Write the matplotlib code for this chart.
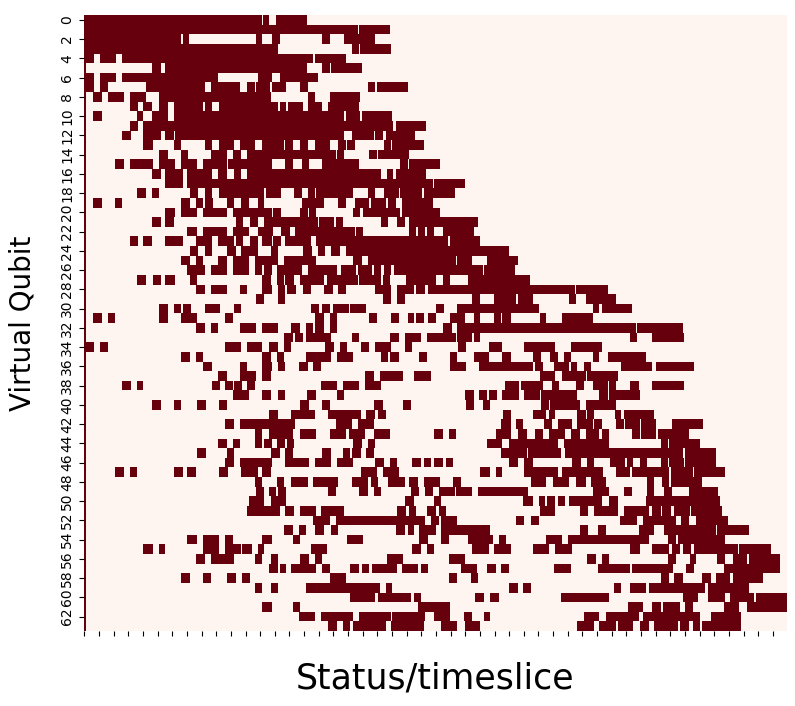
import numpy as np
import matplotlib
matplotlib.use("Agg")
import matplotlib.pyplot as plt
import seaborn as sns

# busy spans per virtual qubit, (start, end) in units of 2 timeslices
busy = [
    [(0,97),(98,101),(105,122)],
    [(0,149.5),(150,167)],
    [(0,53),(54,57.5),(94,97.5),(102.5,107),(130,134.5),(142,159)],
    [(0,97),(97.5,106),(146.5,150),(151,167.5)],
    [(0,5.5),(8.5,17.5),(20.5,125),(126,143)],
    [(0,1),(37,42),(44.5,122),(130,134.5),(135,152)],
    [(0,5.5),(8.5,17.5),(20.5,73),(95,102.5),(107,128)],
    [(0,5.5),(8.5,13),(34,66),(69.5,85),(89,93.5),(94,101.5),(102.5,110.5),(118,122.5),(155,159),(160,177)],
    [(0,1),(5,10),(13,22),(25,34),(41,97),(97.5,102),(122.5,126),(134.5,151)],
    [(0,1),(25,29.5),(32.5,37),(41,46),(49,65),(66,70),(73.5,106),(107,110.5),(111.5,119.5),(122.5,130),(133.5,150)],
    [(0,1),(5,10),(29,32.5),(37,46),(49,142),(143,151),(152,168.5)],
    [(0,1),(25,29.5),(32.5,169),(170.5,187)],
    [(0,1),(20.5,25.5),(32.5,42),(44.5,49),(49.5,142),(146.5,158.5),(159,163.5),(165,181)],
    [(0,1),(32.5,37.5),(49,53),(66,70),(73.5,82),(85,93.5),(97,109),(110,114),(118,122.5),(126,134.5),(138.5,143),(143.5,148),(164,167.5),(168.5,185.5)],
    [(0,1),(41,46),(53,57),(69.5,78),(81.5,85.5),(89,137.5),(138,142),(155.5,160),(160.5,177.5)],
    [(0,1),(17,22),(25,37.5),(41,49.5),(53,61.5),(65,78),(78.5,102.5),(110,114),(119,123),(130,150),(172.5,177),(177.5,194.5)],
    [(0,1),(37,42),(44.5,54),(56.5,70),(73,78),(82,85.5),(89,162),(165.5,169),(170.5,187)],
    [(0,1),(44.5,54),(56.5,190.5),(191,208)],
    [(0,1),(29,34),(37,41),(58,62.5),(66,70),(73.5,98.5),(99.5,107.5),(114.5,119),(122.5,126),(126.5,147),(155,159),(164,172),(172.5,184.5),(185.5,202.5)],
    [(0,1),(5,10),(17,20.5),(53,58),(61,65),(66,70.5),(78,82),(85.5,90),(95,98.5),(119,131),(138.5,143),(148,155.5),(156.5,165),(166,170.5),(173.5,190.5)],
    [(0,1),(44.5,49.5),(53,61.5),(65,78),(81.5,102.5),(103.5,107.5),(118,122.5),(123,126.5),(147,151),(152.5,172.5),(173.5,194.5)],
    [(0,1),(37,42),(44.5,49),(83,87),(90.5,95),(98.5,128),(128.5,136.5),(137.5,141.5),(162,166),(171,175.5),(177.5,197.5),(198,215)],
    [(0,1),(56.5,61.5),(65,78),(81.5,90),(95,103.5),(107.5,112.5),(115.5,148),(148.5,152.5),(177.5,181.5),(182.5,186),(187.5,191),(196,213)],
    [(0,1),(25,29.5),(32.5,37),(44.5,54),(61,70),(73,82),(83,87),(90.5,95),(97.5,102.5),(103.5,107.5),(110,124),(126.5,199),(200,216.5)],
    [(0,1),(58,62.5),(66,70),(78,83),(85.5,95),(102,106),(119.5,124.5),(128,131.5),(135,140),(143,232)],
    [(0,1),(53,58),(61,65),(73,78),(81.5,90),(93.5,106),(109,126.5),(147,152),(155,203),(204,212),(220,237)],
    [(0,1),(56.5,66),(69.5,78),(81.5,90),(93.5,97.5),(98.5,102.5),(105.5,119),(122.5,138),(140.5,148.5),(149.5,157.5),(158.5,162),(164,167.5),(169.5,218),(218.5,235.5)],
    [(0,1),(29,34),(37.5,42),(44.5,49.5),(58,61.5),(97,102),(105.5,109),(110,114.5),(118,131),(132.5,149.5),(150,162),(163.5,167),(176,192),(196,200),(210,243.5)],
    [(0,1),(61,66),(69.5,78),(85,89),(97.5,102.5),(106,110),(111,116),(119.5,124),(131,136),(138.5,143),(159,167.5),(171,180),(181.5,186),(188,268),(269,286)],
    [(0,1),(94,98.5),(106,110),(163.5,167.5),(171,175.5),(212,216.5),(224,236),(237,245),(265,269),(274,290.5)],
    [(0,1),(41,46),(49,53),(54,58.5),(66,74.5),(82,85.5),(124,128.5),(130,134.5),(136,144.5),(145.5,154),(192,196.5),(204,248.5),(278,281.5),(283,299.5)],
    [(0,1),(5,10),(13,17),(41,46),(53,61.5),(77,81.5),(126,131),(134.5,138),(155.5,160),(167.5,172),(177,180.5),(181.5,185.5),(188,192),(200,208),(213,216.5),(224,228),(228.5,233),(249,252.5),(261,278)],
    [(0,1),(61,66),(69.5,73),(85,94),(97,106),(113,118),(121,125),(126,131),(134.5,138),(196,201),(204,301.5),(302,327)],
    [(0,1),(109,114),(115.5,119.5),(121,135),(146.5,150),(167,172),(175.5,184),(187.5,203),(204,212),(213,216.5),(298,302),(310.5,327.5)],
    [(0,5.5),(8.5,13),(77,85.5),(89,97.5),(101,106),(109,113),(131.5,136.5),(140,143.5),(151.5,155.5),(159,167.5),(175.5,179),(204.5,208.5),(221,228.5),(240.5,245),(245.5,257.5),(266,283)],
    [(0,1),(53,58),(61,65),(97,102),(105.5,109),(121,135),(138,147),(162,166),(167,172),(183,187.5),(200,204),(213,221),(228.5,233),(245.5,249.5),(254.5,259),(262,266),(278,281.5),(286,307)],
    [(0,1),(65,70),(85,89),(97.5,102.5),(106,110),(117.5,122.5),(125,129.5),(200,208.5),(216,245),(246.5,250.5),(257,265),(266,269.5),(273,277),(293.5,310),(312.5,333)],
    [(0,1),(73,78),(85,94),(97.5,102),(153.5,158.5),(161.5,174),(180.5,189.5),(249,257.5),(261,274),(274.5,291.5)],
    [(0,1),(20.5,25.5),(29,32.5),(70,74.5),(77,81.5),(82,86.5),(89,93.5),(129.5,138),(141.5,150),(153.5,162),(230,237.5),(238.5,250.5),(255.5,259.5),(269,273),(278,286),(286.5,290.5),(298.5,303),(310.5,327.5)],
    [(0,1),(81.5,90),(97,102),(106,110),(122,126.5),(138,142),(208,213),(216,220),(221,225.5),(228.5,237.5),(240.5,249),(249.5,269.5),(281.5,286),(286.5,303.5)],
    [(0,1),(37,42),(49,53),(61.5,66.5),(73.5,78),(118,123),(130,134.5),(158.5,163.5),(174,178.5),(208.5,213),(218,221.5),(249.5,254),(254.5,271),(274,290.5)],
    [(0,1),(101,106),(113,126),(133.5,151.5),(154,159),(160.5,165),(229,233.5),(245,252.5),(254,257.5),(269.5,274),(274.5,278.5),(290,293.5),(295,311.5)],
    [(0,1),(77,82),(85,115.5),(137.5,146.5),(149.5,158.5),(228,233),(236,240),(251,255.5),(259,266.5),(269.5,278),(278.5,283),(290.5,295),(295.5,303.5),(304,312.5),(321,338)],
    [(0,1),(93.5,97.5),(101,114),(118,126.5),(134.5,143),(144.5,153.5),(158.5,167),(191,196),(199.5,203),(225,233.5),(237,242),(246.5,250.5),(254,262.5),(266,271),(274,281.5),(283,286.5),(299.5,303.5),(304,312.5),(313.5,330.5)],
    [(0,1),(73,78),(81.5,85),(93.5,97.5),(98.5,102.5),(105.5,110),(111,114.5),(147,152),(155,159),(220,228.5),(232,259),(262,286.5),(315,319),(319.5,336.5)],
    [(0,1),(61.5,66.5),(78,82),(102,107),(110,114),(130,135),(141.5,145.5),(146.5,151.5),(154,158.5),(228,242),(242.5,260.5),(262.5,327),(328.5,345)],
    [(0,1),(77,82),(85,102.5),(110,123),(126,135),(138,147),(159,164),(167,171),(179,184),(185.5,189.5),(191,196),(197.5,201.5),(232,237),(240.5,245),(266.5,271.5),(274.5,278.5),(287.5,295.5),(296.5,300),(303.5,307.5),(315,319),(319.5,327.5),(328.5,345)],
    [(0,1),(17,22),(25,29),(49,54),(56.5,61),(73.5,78.5),(85.5,95),(97.5,102),(151.5,160),(163.5,172),(216.5,221.5),(225,228.5),(240.5,259),(261,283.5),(290.5,298.5),(299.5,319.5),(320.5,332.5),(333,350)],
    [(0,1),(93.5,97.5),(105.5,109),(113,122.5),(125,138.5),(146.5,155),(156.5,160.5),(166,175.5),(177.5,182.5),(185.5,194.5),(201.5,206),(244,252.5),(256,265),(269,274),(277,285),(307.5,311.5),(315.5,319.5),(320.5,337.5)],
    [(0,1),(94,98.5),(101,105),(106,110.5),(133.5,137.5),(150,155),(158.5,162),(178.5,183),(186,190.5),(194,202.5),(203,212),(215,233),(233.5,242.5),(278,286.5),(295,299.5),(307.5,311.5),(317,321),(330.5,346.5)],
    [(0,1),(90,98.5),(102,110.5),(175.5,180),(191,195),(240,245),(248.5,252),(253,257.5),(259,262.5),(265,283),(286.5,291.5),(307,347.5)],
    [(0,1),(89,107),(110,114.5),(118,126.5),(129.5,142),(171,176),(177.5,181.5),(187.5,192),(194,197.5),(249,257.5),(271,275.5),(278.5,291.5),(295,308.5),(310.5,315),(315.5,320.5),(322.5,331),(331.5,348.5)],
    [(0,1),(125,134.5),(137.5,186),(189.5,194),(195,204),(236,240.5),(244,248.5),(293,302),(305.5,323.5),(326,330.5),(334.5,351.5)],
    [(0,1),(109,114),(117.5,121),(126,131),(135,138.5),(170.5,175.5),(177,180.5),(183,192),(195,221.5),(271,275.5),(281,285),(303,311.5),(317,345),(346,363)],
    [(0,1),(56.5,61.5),(65,73.5),(77,81.5),(97.5,102.5),(114,118),(143.5,152.5),(183,188),(195,199.5),(209.5,223.5),(226.5,230.5),(252.5,261),(264.5,308.5),(319,323.5),(324.5,350)],
    [(0,1),(32.5,37.5),(41,44.5),(65,73.5),(77,85.5),(86.5,91.5),(95,98.5),(124,132.5),(179,184),(187.5,191),(212,221),(224,233),(245,254),(257.5,266.5),(298.5,303.5),(310.5,319.5),(321,325.5),(327,331.5),(333,357.5),(358,375)],
    [(0,1),(61,66),(69.5,82),(93.5,97.5),(102,106),(118,123),(126,130),(165.5,174),(199.5,208),(274.5,279.5),(283,286.5),(319,323.5),(331,334.5),(346,350),(354.5,362),(363,380)],
    [(0,1),(101,106),(107,110.5),(113,126.5),(130,134.5),(145.5,150),(152,155.5),(157.5,171),(173.5,182.5),(184,188),(206,214.5),(220,225),(228,232),(257,266),(281,298.5),(299.5,322),(329,333),(349.5,380)],
    [(0,1),(53,58),(65,69.5),(78,83),(86.5,90.5),(134.5,143),(199.5,204),(211.5,215),(315,319.5),(322.5,327),(337.5,342.5),(345,353),(354.5,371)],
    [(0,1),(93.5,97.5),(102,106),(121,161.5),(165,168.5),(232,237),(240,244),(289.5,293.5),(298,307),(308.5,339),(341,363)],
    [(0,1),(145.5,159),(160.5,178.5),(180,184),(213.5,218.5),(222,226.5),(260.5,286.5),(327,335.5),(341,350),(353,366),(367,384)],
    [(0,1),(97.5,102.5),(114,118),(182.5,200),(297,305.5),(310,315),(316.5,325.5),(328.5,332.5),(349.5,358),(362,384)],
    [(0,1),(117.5,126),(129.5,147),(150,167.5),(168.5,186),(191,200),(207.5,212),(218.5,222),(273,281.5),(285,303),(305.5,336.5),(342.5,359)],
    [(0,1),(133.5,138),(141.5,145.5),(147,165),(167.5,185.5),(195,204),(208,216.5),(269.5,278.5),(281.5,290.5),(291.5,300),(303.5,308.5),(311.5,324.5),(325.5,330.5),(332.5,336.5),(337.5,359)],
]
n_slices = 768
qubit_labels = list(range(0, 64, 2))

grid = np.zeros((len(busy), n_slices))
for q, spans in enumerate(busy):
    for a, b in spans:
        grid[q, int(a * 2):int(b * 2)] = 1

fig = plt.figure(figsize=(7.95, 7.06), dpi=100)
ax = fig.add_axes([84 / 795, 1 - 631 / 706, 703 / 795, 616 / 706])
sns.heatmap(grid, cmap="Reds", cbar=False, ax=ax, xticklabels=16, yticklabels=2)
ax.set_xticklabels([])
ax.set_yticks(np.array(qubit_labels) + 0.5)
ax.set_yticklabels(qubit_labels, rotation=90, va="center", fontsize=10)
ax.set_xlabel("Status/timeslice", fontsize=25, labelpad=15)
ax.set_ylabel("Virtual Qubit", fontsize=20, labelpad=17)
fig.savefig("out.png", dpi=100)
